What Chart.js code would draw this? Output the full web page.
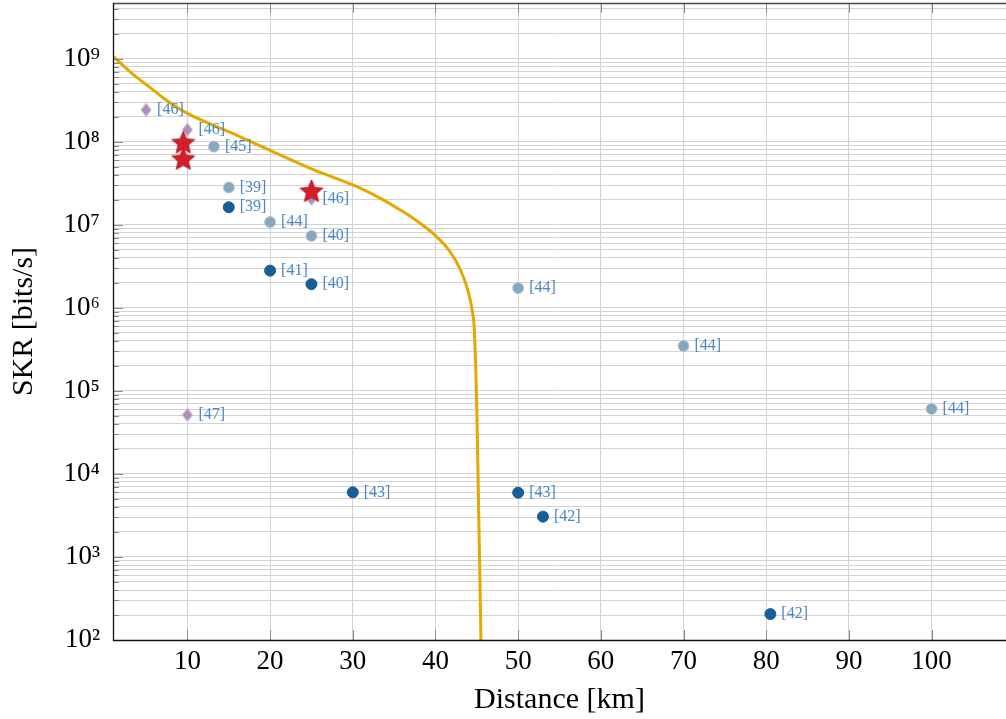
<!DOCTYPE html>
<html><head><meta charset="utf-8">
<script src="https://cdn.jsdelivr.net/npm/chart.js@4.4.0/dist/chart.umd.min.js"></script>
<style>html,body{margin:0;padding:0;background:#fff;overflow:hidden}#wrap{width:1006px;height:719px}</style>
</head><body><div id="wrap"><canvas id="c" width="1006" height="719"></canvas></div>
<script>
// ---- data ----
const curveDist = [1.06, 3.5, 5.5, 7.6, 10, 15.6, 20, 25.3, 30.1, 33.3, 35.8, 37.3, 40, 41.8, 43, 43.9, 44.5, 44.7, 45.0, 45.5];
const curveSkr  = [1.06e9, 6.4e8, 4.5e8, 3.1e8, 2.2e8, 1.25e8, 7.9e7, 4.6e7, 3.0e7, 2.1e7, 1.5e7, 1.2e7, 7.4e6, 4.7e6, 2.9e6, 1.65e6, 8.6e5, 5.4e5, 6.0e4, 1.0e2];

const darkDist = [15, 20, 25, 30, 50, 53, 80.5];
const darkSkr  = [1.63e7, 2.81e6, 1.93e6, 6.0e3, 5.95e3, 3.06e3, 2.05e2];
const darkRefs = ['[39]', '[41]', '[40]', '[43]', '[43]', '[42]', '[42]'];

const lightDist = [13.2, 15, 20, 25, 50, 70, 100];
const lightSkr  = [8.77e7, 2.82e7, 1.08e7, 7.36e6, 1.73e6, 3.48e5, 6.07e4];
const lightRefs = ['[45]', '[39]', '[44]', '[40]', '[44]', '[44]', '[44]'];

const diamDist = [5, 10, 10, 25];
const diamSkr  = [2.43e8, 1.40e8, 5.14e4, 2.06e7];
const diamRefs = ['[46]', '[46]', '[47]', '[46]'];

const starDist = [9.5, 9.5, 25];
const starSkr  = [9.6e7, 6.1e7, 2.5e7];

const xTickVals = [10, 20, 30, 40, 50, 60, 70, 80, 90, 100];
const yExponents = [2, 3, 4, 5, 6, 7, 8, 9];
const yMantissas = [1, 2, 3, 4, 5, 6, 7, 8, 9];

const X_MIN = 1, X_MAX = 109, Y_MIN = 1e2, Y_MAX = 4.7e9;
// ---------------------------------------

const SUP = {'0':'⁰','1':'¹','2':'²','3':'³','4':'⁴','5':'⁵','6':'⁶','7':'⁷','8':'⁸','9':'⁹'};
const FONT = '"Liberation Serif", "DejaVu Serif", serif';

function pts(xs, ys){ return xs.map((x,i)=>({x:x, y:ys[i]})); }

function makeStar(R, fill, stroke){
  const s = Math.ceil(2*R+4), c = document.createElement('canvas'); c.width = s; c.height = s;
  const g = c.getContext('2d'), cx = s/2, cy = s/2, r = R*0.45;
  g.beginPath();
  for (let i=0;i<10;i++){ const a=-Math.PI/2+i*Math.PI/5, rr=(i%2)?r:R; g.lineTo(cx+rr*Math.cos(a), cy+rr*Math.sin(a)); }
  g.closePath(); g.fillStyle = fill; g.fill(); g.lineWidth = 1; g.strokeStyle = stroke; g.stroke();
  return c;
}
function makeDiamond(w, h, fill, stroke){
  const c = document.createElement('canvas'); c.width = w+2; c.height = h+2;
  const g = c.getContext('2d'), cx = (w+2)/2, cy = (h+2)/2;
  g.beginPath(); g.moveTo(cx, cy-h/2); g.lineTo(cx+w/2, cy); g.lineTo(cx, cy+h/2); g.lineTo(cx-w/2, cy); g.closePath();
  g.fillStyle = fill; g.fill(); g.lineWidth = 1; g.strokeStyle = stroke; g.stroke();
  return c;
}
const starImg = makeStar(12, '#d41f28', '#b8121b');
const diamImg = makeDiamond(10, 13, '#ab8eb8', '#c6b2cf');

const yTickVals = [];
yExponents.forEach(e => yMantissas.forEach(m => { const v = m*Math.pow(10,e); if (v >= Y_MIN && v <= Y_MAX) yTickVals.push(v); }));
function isDecade(v){ const l = Math.log10(v); return Math.abs(l-Math.round(l)) < 1e-9; }

const refLabels = {
  id: 'refLabels',
  afterDatasetsDraw(chart){
    const ctx = chart.ctx; ctx.save();
    ctx.font = '16px ' + FONT; ctx.fillStyle = '#4a86c2'; ctx.textBaseline = 'middle'; ctx.textAlign = 'left';
    chart.data.datasets.forEach((ds,i)=>{
      if (!ds.refs) return;
      chart.getDatasetMeta(i).data.forEach((p,j)=>{ ctx.fillText(ds.refs[j], p.x+11, p.y); });
    });
    ctx.restore();
  }
};
const frame = {
  id: 'frame',
  afterDraw(chart){
    const {ctx, chartArea:a, scales} = chart; const xs = scales.x, ys = scales.y;
    ctx.save(); ctx.lineWidth = 1; ctx.strokeStyle = '#8a8a8a';
    ys.ticks.forEach(t=>{ const py = Math.round(ys.getPixelForValue(t.value))+0.5; const len = isDecade(t.value)?10:6;
      ctx.beginPath(); ctx.moveTo(a.left, py); ctx.lineTo(a.left+len, py); ctx.stroke(); });
    xs.ticks.forEach(t=>{ const px = Math.round(xs.getPixelForValue(t.value))+0.5;
      ctx.beginPath(); ctx.moveTo(px, a.bottom); ctx.lineTo(px, a.bottom-10); ctx.moveTo(px, a.top); ctx.lineTo(px, a.top+10); ctx.stroke(); });
    ctx.strokeStyle = '#4a4a4a'; ctx.lineWidth = 1.3;
    ctx.beginPath(); ctx.moveTo(a.left, a.top+0.5); ctx.lineTo(a.right, a.top+0.5); ctx.stroke();
    ctx.strokeStyle = '#111';
    ctx.beginPath(); ctx.moveTo(a.left+0.5, a.top); ctx.lineTo(a.left+0.5, a.bottom+0.5); ctx.lineTo(a.right, a.bottom+0.5); ctx.stroke();
    ctx.restore();
  }
};

function noPad(s){ s.paddingTop = 0; s.paddingBottom = 0; s.paddingLeft = 0; s.paddingRight = 0; }

new Chart(document.getElementById('c'), {
  type: 'scatter',
  data: { datasets: [
    { label:'stars', data: pts(starDist, starSkr), pointStyle: starImg, order: 0 },
    { label:'diamonds', data: pts(diamDist, diamSkr), pointStyle: diamImg, refs: diamRefs, order: 1 },
    { label:'light', data: pts(lightDist, lightSkr), pointStyle:'circle', pointRadius: 5.5, backgroundColor:'#89a7bc', borderColor:'#b3c8d6', borderWidth: 1, refs: lightRefs, order: 2 },
    { label:'dark', data: pts(darkDist, darkSkr), pointStyle:'circle', pointRadius: 5.5, backgroundColor:'#175d96', borderColor:'#175d96', borderWidth: 1, refs: darkRefs, order: 3 },
    { label:'bound', type:'line', data: pts(curveDist, curveSkr), borderColor:'#e6a700', borderWidth: 3, pointRadius: 0, fill:false, cubicInterpolationMode:'monotone', order: 4 }
  ]},
  options: {
    responsive: false, animation: false, devicePixelRatio: 1,
    layout: { padding: { top: 3, right: 0, left: 0, bottom: 0 }, autoPadding: false },
    plugins: { legend: { display: false }, tooltip: { enabled: false } },
    scales: {
      x: {
        type: 'linear', min: X_MIN, max: X_MAX,
        afterBuildTicks: s => { s.ticks = xTickVals.map(v=>({value:v})); },
        afterFit: s => { s.height = 79; noPad(s); },
        grid: { color: '#d2d2d2', lineWidth: 1, drawTicks: false },
        border: { display: false },
        ticks: { autoSkip: false, maxRotation: 0, padding: 6, color: '#000', font: { family: FONT, size: 27 }, callback: v => String(v) },
        title: { display: true, text: 'Distance [km]', color: '#000', font: { family: FONT, size: 30 }, padding: { top: 0, bottom: 1 } }
      },
      y: {
        type: 'logarithmic', min: Y_MIN, max: Y_MAX,
        afterBuildTicks: s => { s.ticks = yTickVals.map(v=>({value:v, major:isDecade(v)})); },
        afterFit: s => { s.width = 113; noPad(s); },
        grid: { color: '#d2d2d2', lineWidth: 1, drawTicks: false },
        border: { display: false },
        ticks: { autoSkip: false, padding: 13, color: '#000', font: { family: FONT, size: 27 },
          callback: v => isDecade(v) ? '10' + String(Math.round(Math.log10(v))).split('').map(d=>SUP[d]).join('') : '' },
        title: { display: true, text: 'SKR [bits/s]', color: '#000', font: { family: FONT, size: 30 }, padding: { top: 6, bottom: 0 } }
      }
    }
  },
  plugins: [refLabels, frame]
});
</script></body></html>
